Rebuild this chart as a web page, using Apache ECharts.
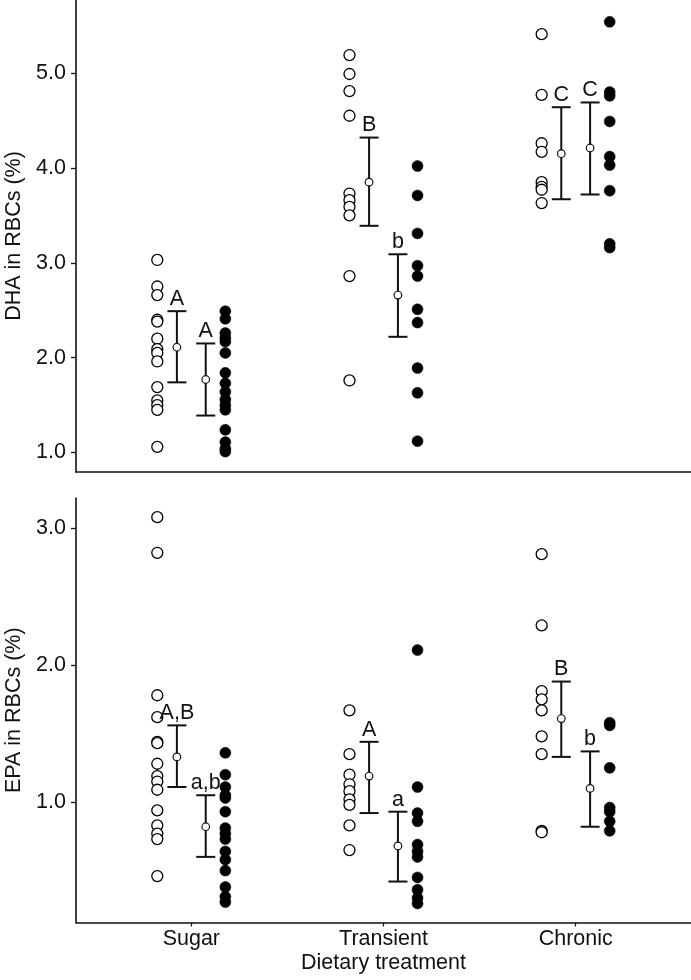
<!DOCTYPE html>
<html>
<head>
<meta charset="utf-8">
<script src="https://cdn.jsdelivr.net/npm/echarts@6/dist/echarts.min.js"></script>
<style>
html,body{margin:0;padding:0;background:#fff;}
#chart{width:691px;height:980px;}
</style>
</head>
<body>
<div id="chart"></div>
<script>
// ---- data ----
const groups = ['Sugar', 'Transient', 'Chronic'];
const dhaTicks = [1, 2, 3, 4, 5];
const epaTicks = [1, 2, 3];

// DHA individual values (open = first treatment, filled = second)
const dhaOpenSugar = [3.03, 2.75, 2.66, 2.40, 2.38, 2.20, 2.09, 2.05, 1.96, 1.69, 1.55, 1.50, 1.45, 1.06];
const dhaOpenTransient = [5.19, 4.99, 4.81, 4.55, 3.73, 3.66, 3.59, 3.50, 2.86, 1.76];
const dhaOpenChronic = [5.41, 4.77, 4.26, 4.17, 3.85, 3.80, 3.77, 3.63];
const dhaFilledSugar = [2.49, 2.41, 2.26, 2.21, 2.17, 2.05, 1.84, 1.73, 1.64, 1.56, 1.50, 1.45, 1.24, 1.11, 1.04, 1.01];
const dhaFilledTransient = [4.02, 3.71, 3.31, 2.97, 2.86, 2.51, 2.37, 1.89, 1.63, 1.12];
const dhaFilledChronic = [5.54, 4.80, 4.76, 4.49, 4.12, 4.03, 3.76, 3.20, 3.16];

// EPA individual values
const epaOpenSugar = [3.08, 2.82, 1.78, 1.62, 1.44, 1.43, 1.28, 1.19, 1.15, 1.09, 0.94, 0.83, 0.77, 0.73, 0.46];
const epaOpenTransient = [1.67, 1.35, 1.20, 1.13, 1.08, 1.02, 0.98, 0.83, 0.65];
const epaOpenChronic = [2.81, 2.29, 1.81, 1.75, 1.67, 1.48, 1.35, 0.79, 0.78];
const epaFilledSugar = [1.36, 1.20, 1.11, 1.05, 1.03, 0.93, 0.81, 0.77, 0.73, 0.64, 0.58, 0.50, 0.38, 0.31, 0.27];
const epaFilledTransient = [2.11, 1.11, 0.92, 0.86, 0.69, 0.64, 0.60, 0.45, 0.36, 0.30, 0.26];
const epaFilledChronic = [1.58, 1.56, 1.25, 0.96, 0.93, 0.86, 0.79];

// means with error bars and significance letters
const dhaOpenMean = [2.11, 3.85, 4.15];
const dhaOpenLow = [1.74, 3.39, 3.67];
const dhaOpenHigh = [2.49, 4.32, 4.64];
const dhaOpenLetters = ['A', 'B', 'C'];
const dhaFilledMean = [1.77, 2.66, 4.21];
const dhaFilledLow = [1.39, 2.22, 3.72];
const dhaFilledHigh = [2.15, 3.09, 4.69];
const dhaFilledLetters = ['A', 'b', 'C'];

const epaOpenMean = [1.33, 1.19, 1.61];
const epaOpenLow = [1.11, 0.92, 1.33];
const epaOpenHigh = [1.56, 1.44, 1.88];
const epaOpenLetters = ['A,B', 'A', 'B'];
const epaFilledMean = [0.82, 0.68, 1.10];
const epaFilledLow = [0.60, 0.42, 0.82];
const epaFilledHigh = [1.05, 0.93, 1.37];
const epaFilledLetters = ['a,b', 'a', 'b'];

// ---- layout helpers ----
const FONT = "'Liberation Sans', Arial, Helvetica, sans-serif";
const TXT = '#111';
const FS = 21.5;
const OFF_DOTS = 0.177;
const OFF_MEAN = 0.075;

function dotData(lists, sign) {
  const out = [];
  lists.forEach((arr, gi) => {
    arr.forEach(v => out.push([gi + 1 + sign * OFF_DOTS, v]));
  });
  return out;
}
function meanData(mean, low, high, sign) {
  return mean.map((m, gi) => [gi + 1 + sign * OFF_MEAN, m, low[gi], high[gi]]);
}
function dotSeries(idx, data, filled) {
  return {
    type: 'scatter', xAxisIndex: idx, yAxisIndex: idx, data: data,
    symbol: 'circle', symbolSize: 11,
    itemStyle: filled ? { color: '#000', borderColor: '#000', borderWidth: 0.5, opacity: 1 }
                      : { color: '#fff', borderColor: '#000', borderWidth: 1.3, opacity: 1 },
    z: 3, silent: true, animation: false
  };
}
function barSeries(idx, data, letters) {
  return {
    type: 'custom', xAxisIndex: idx, yAxisIndex: idx, data: data,
    silent: true, animation: false, z: 4,
    renderItem: function (params, api) {
      const x = api.value(0);
      const pm = api.coord([x, api.value(1)]);
      const pl = api.coord([x, api.value(2)]);
      const ph = api.coord([x, api.value(3)]);
      const hw = 9.5;
      const st = { stroke: '#111', lineWidth: 2 };
      return {
        type: 'group',
        children: [
          { type: 'line', shape: { x1: pm[0], y1: pl[1], x2: pm[0], y2: ph[1] }, style: st },
          { type: 'line', shape: { x1: pm[0] - hw, y1: ph[1], x2: pm[0] + hw, y2: ph[1] }, style: st },
          { type: 'line', shape: { x1: pm[0] - hw, y1: pl[1], x2: pm[0] + hw, y2: pl[1] }, style: st },
          { type: 'circle', shape: { cx: pm[0], cy: pm[1], r: 3.8 }, style: { fill: '#fff', stroke: '#111', lineWidth: 1.2 } },
          { type: 'text', x: pm[0], y: ph[1] - 1,
            style: { text: letters[params.dataIndex], fill: TXT, font: FS + 'px ' + FONT, textAlign: 'center', textVerticalAlign: 'bottom' } }
        ]
      };
    }
  };
}
function yAxisDef(idx, min, max, ticks, name) {
  return {
    type: 'value', gridIndex: idx, min: min, max: max,
    name: name, nameLocation: 'middle', nameGap: 51,
    nameTextStyle: { fontSize: FS, fontFamily: FONT, color: TXT },
    axisLine: { show: true, lineStyle: { color: '#111', width: 1.6 } },
    axisTick: { show: true, length: 5, customValues: ticks, lineStyle: { color: '#111', width: 1.3 } },
    axisLabel: { customValues: ticks, margin: 10, fontSize: FS, fontFamily: FONT, color: TXT,
                 formatter: v => Number(v).toFixed(1) },
    splitLine: { show: false }
  };
}

const chart = echarts.init(document.getElementById('chart'), null, { renderer: 'canvas' });
chart.setOption({
  backgroundColor: '#fff',
  animation: false,
  grid: [
    { left: 76, top: 0, width: 615, height: 472, containLabel: false, outerBoundsMode: 'none' },
    { left: 76, top: 498, width: 615, height: 424.5, containLabel: false, outerBoundsMode: 'none' }
  ],
  xAxis: [
    { type: 'value', gridIndex: 0, min: 0.4, max: 3.6,
      axisLine: { show: true, onZero: false, lineStyle: { color: '#111', width: 1.6 } },
      axisTick: { show: false }, axisLabel: { show: false }, splitLine: { show: false } },
    { type: 'value', gridIndex: 1, min: 0.4, max: 3.6,
      name: 'Dietary treatment', nameLocation: 'middle', nameGap: 30,
      nameTextStyle: { fontSize: FS, fontFamily: FONT, color: TXT },
      axisLine: { show: true, onZero: false, lineStyle: { color: '#111', width: 1.6 } },
      axisTick: { show: true, length: 4, customValues: [1, 2, 3], lineStyle: { color: '#111', width: 1.2 } },
      axisLabel: { customValues: [1, 2, 3], margin: 6, fontSize: FS, fontFamily: FONT, color: TXT,
                   formatter: v => groups[Math.round(v) - 1] || '' },
      splitLine: { show: false } }
  ],
  yAxis: [
    yAxisDef(0, 0.795, 5.77, dhaTicks, 'DHA in RBCs (%)'),
    yAxisDef(1, 0.121, 3.22, epaTicks, 'EPA in RBCs (%)')
  ],
  series: [
    dotSeries(0, dotData([dhaOpenSugar, dhaOpenTransient, dhaOpenChronic], -1), false),
    dotSeries(0, dotData([dhaFilledSugar, dhaFilledTransient, dhaFilledChronic], 1), true),
    barSeries(0, meanData(dhaOpenMean, dhaOpenLow, dhaOpenHigh, -1), dhaOpenLetters),
    barSeries(0, meanData(dhaFilledMean, dhaFilledLow, dhaFilledHigh, 1), dhaFilledLetters),
    dotSeries(1, dotData([epaOpenSugar, epaOpenTransient, epaOpenChronic], -1), false),
    dotSeries(1, dotData([epaFilledSugar, epaFilledTransient, epaFilledChronic], 1), true),
    barSeries(1, meanData(epaOpenMean, epaOpenLow, epaOpenHigh, -1), epaOpenLetters),
    barSeries(1, meanData(epaFilledMean, epaFilledLow, epaFilledHigh, 1), epaFilledLetters)
  ]
});
</script>
</body>
</html>
